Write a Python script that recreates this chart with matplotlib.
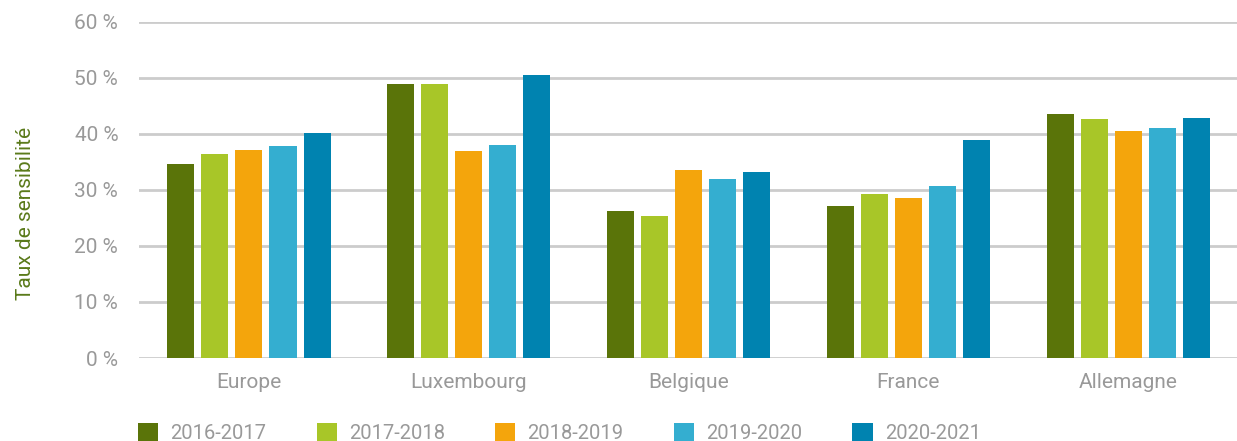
import numpy as np
import matplotlib
matplotlib.use("Agg")
import matplotlib.pyplot as plt

plt.rcParams['font.family'] = ['Roboto', 'DejaVu Sans']

pays = ["Europe", "Luxembourg", "Belgique", "France", "Allemagne"]
periodes = ["2016-2017", "2017-2018", "2018-2019", "2019-2020", "2020-2021"]
couleurs = ["#5a7409", "#a8c628", "#f4a50c", "#34aed0", "#0083b0"]

v_2016 = [34.7, 49.0, 26.2, 27.2, 43.5]
v_2017 = [36.5, 49.0, 25.4, 29.2, 42.6]
v_2018 = [37.2, 37.0, 33.5, 28.6, 40.6]
v_2019 = [37.8, 38.1, 32.0, 30.8, 41.0]
v_2020 = [40.1, 50.6, 33.3, 39.0, 42.9]
valeurs = [v_2016, v_2017, v_2018, v_2019, v_2020]

fig = plt.figure(figsize=(12.37, 4.41), dpi=100)
ax = fig.add_axes([0.1124, 0.1882, 0.8885, 0.762])

x = np.arange(len(pays))
pas = 0.155
larg = 0.123
for i, (serie, c, lab) in enumerate(zip(valeurs, couleurs, periodes)):
    ax.bar(x + (i - 2) * pas, serie, width=larg, color=c, label=lab, zorder=3)

ax.set_xlim(-0.5, 4.5)
ax.set_ylim(0, 60)
ax.set_yticks(range(0, 61, 10))
ax.set_yticklabels([f"{t} %" for t in range(0, 61, 10)])
ax.set_xticks(x)
ax.set_xticklabels(pays)
ax.grid(axis="y", color="#cccccc", linewidth=2, zorder=0)
for s in ax.spines.values():
    s.set_visible(False)
ax.tick_params(axis="both", length=0, colors="#999999", labelsize=15)
ax.tick_params(axis="y", pad=15)
ax.tick_params(axis="x", pad=11)
ax.set_ylabel("Taux de sensibilité", color="#5a7a1a", fontsize=15)
ax.yaxis.set_label_coords(-0.095, 0.43)

leg = fig.legend(loc="upper left", bbox_to_anchor=(0.105, 0.06), ncol=5,
                 frameon=False, fontsize=14.5, handlelength=1.0, handleheight=1.0,
                 handletextpad=0.6, columnspacing=2.5, borderaxespad=0)
for t in leg.get_texts():
    t.set_color("#999999")

fig.savefig("out.png", dpi=100)
